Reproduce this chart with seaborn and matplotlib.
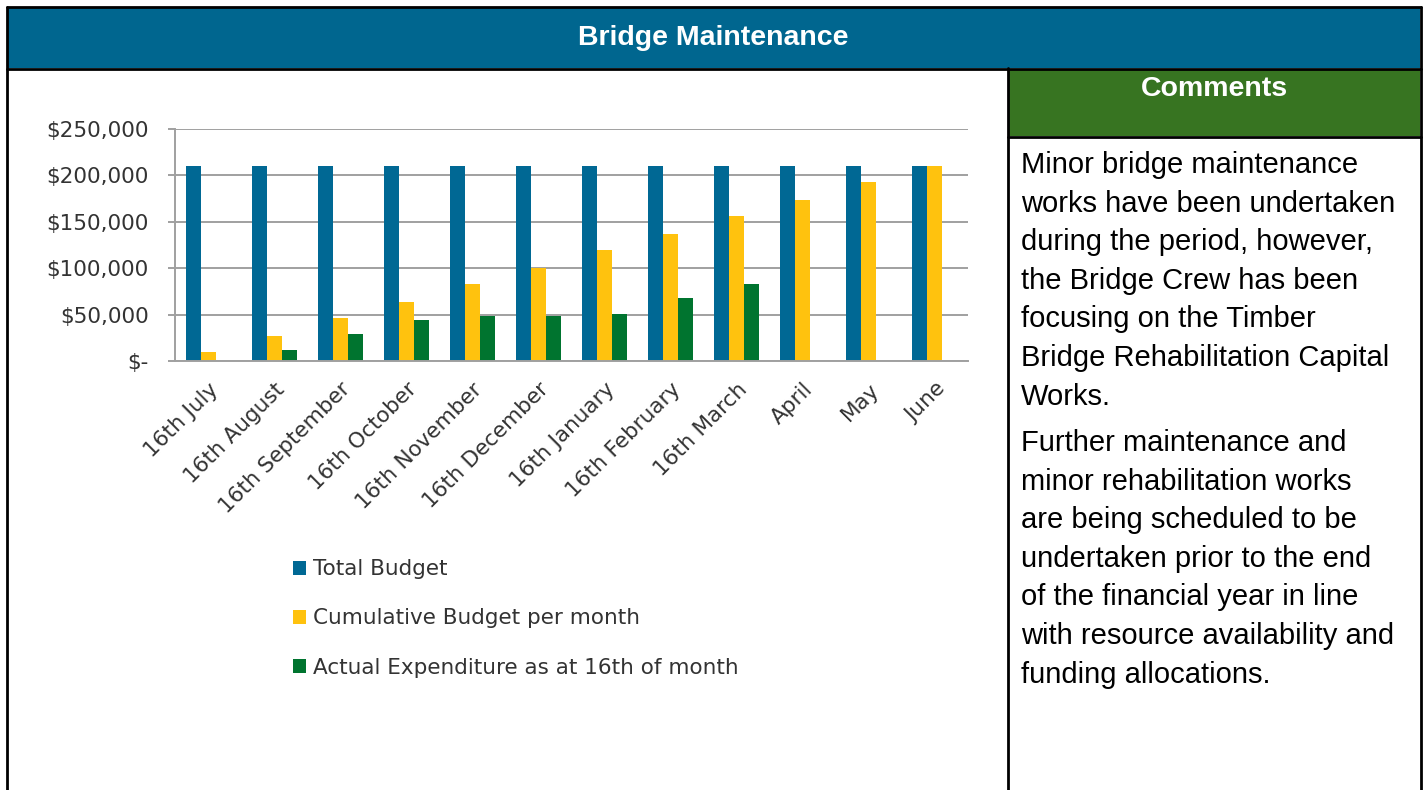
import matplotlib
matplotlib.use("Agg")
import matplotlib.pyplot as plt
from matplotlib.patches import Rectangle
from matplotlib.lines import Line2D
from matplotlib.ticker import FuncFormatter, FixedLocator
import numpy as np
import pandas as pd
import seaborn as sns

# data
months = ['16th July', '16th August', '16th September', '16th October',
          '16th November', '16th December', '16th January', '16th February',
          '16th March', 'April', 'May', 'June']
total_budget = [210000] * 12
cumulative_budget = [10000, 27000, 46000, 64000, 83000, 100000,
                     120000, 137000, 156000, 173000, 193000, 210000]
actual_spend = [np.nan, 12000, 29000, 44000, 49000, 49000,
                51000, 68000, 83000, np.nan, np.nan, np.nan]
series_names = ['Total Budget', 'Cumulative Budget per month',
                'Actual Expenditure as at 16th of month']
series_colors = ['#006894', '#FFC20E', '#00742F']

comment_para1 = ['Minor bridge maintenance', 'works have been undertaken',
                 'during the period, however,', 'the Bridge Crew has been',
                 'focusing on the Timber', 'Bridge Rehabilitation Capital',
                 'Works.']
comment_para2 = ['Further maintenance and', 'minor rehabilitation works',
                 'are being scheduled to be', 'undertaken prior to the end',
                 'of the financial year in line', 'with resource availability and',
                 'funding allocations.']

W, H = 1428, 790

df = pd.DataFrame({
    'month': months * 3,
    'value': total_budget + cumulative_budget + actual_spend,
    'series': [s for s in series_names for _ in months],
}).dropna()

sns.set_style('white')
plt.rcParams['font.family'] = ['DejaVu Sans']

fig = plt.figure(figsize=(W / 100, H / 100), dpi=100)


def px_rect(x, y, w, h, **kw):
    fig.add_artist(Rectangle((x / W, 1 - (y + h) / H), w / W, h / H,
                             transform=fig.transFigure, **kw))


def px_line(x0, y0, x1, y1, **kw):
    fig.add_artist(Line2D([x0 / W, x1 / W], [1 - y0 / H, 1 - y1 / H],
                          transform=fig.transFigure, **kw))


# frame and headers
px_rect(8, 8, 1412, 60, facecolor='#00668F', edgecolor='none')
px_rect(1009, 69, 411, 67, facecolor='#377421', edgecolor='none')
px_line(7, 7, 1421, 7, color='black', lw=2)
px_line(7, 7, 7, 790, color='black', lw=2)
px_line(1421, 7, 1421, 790, color='black', lw=2)
px_line(7, 68.5, 1421, 68.5, color='black', lw=2)
px_line(1008, 68, 1008, 790, color='black', lw=2)
px_line(1008, 136.5, 1421, 136.5, color='black', lw=2)

fig.text(713 / W, 1 - 38 / H, 'Bridge Maintenance', color='white',
         fontsize=20.5, fontweight='bold', family='Liberation Sans',
         ha='center', va='center')
fig.text(1214 / W, 1 - 89 / H, 'Comments', color='white',
         fontsize=20.5, fontweight='bold', family='Liberation Sans',
         ha='center', va='center')

for i, line in enumerate(comment_para1):
    fig.text(1021 / W, 1 - (165 + i * 38.6) / H, line, fontsize=21,
             family='Liberation Sans', color='black', va='center')
for i, line in enumerate(comment_para2):
    fig.text(1021 / W, 1 - (443 + i * 38.6) / H, line, fontsize=21,
             family='Liberation Sans', color='black', va='center')

# chart
ax = fig.add_axes([175 / W, 1 - 361 / H, 793 / W, 232 / H])
sns.barplot(data=df, x='month', y='value', hue='series', order=months,
            hue_order=series_names, palette=series_colors, width=0.68,
            saturation=1, errorbar=None, linewidth=0, ax=ax, legend=False)

ax.set_ylim(0, 250000)
ax.set_xlim(-0.5, len(months) - 0.5)
ax.set_yticks(np.arange(0, 250001, 50000))
ax.yaxis.set_major_formatter(FuncFormatter(
    lambda v, p: '$-' if v == 0 else '${:,.0f}'.format(v)))
ax.grid(axis='y', color='#A0A0A0', lw=1.4)
ax.set_axisbelow(True)
ax.set_xlabel('')
ax.set_ylabel('')
for side in ['top', 'right']:
    ax.spines[side].set_visible(False)
for side in ['left', 'bottom']:
    ax.spines[side].set_color('#A0A0A0')
    ax.spines[side].set_linewidth(1.4)

ax.xaxis.set_minor_locator(FixedLocator(np.arange(-0.5, len(months), 1)))
ax.tick_params(axis='x', which='major', length=0, pad=13, labelsize=15.5,
               labelcolor='#333333')
ax.tick_params(axis='x', which='minor', length=6, width=1.4, color='#A0A0A0',
               direction='out')
ax.tick_params(axis='y', length=5, width=1.4, color='#A0A0A0', pad=14,
               labelsize=15.5, labelcolor='#333333', left=True)
plt.setp(ax.get_xticklabels(), rotation=45, ha='right',
         rotation_mode='anchor')

handles = [Rectangle((0, 0), 1, 1, facecolor=c, edgecolor='none')
           for c in series_colors]
fig.legend(handles, series_names, loc='upper left',
           bbox_to_anchor=(274 / W, 1 - 540 / H), frameon=False,
           fontsize=15.5, handlelength=0.6, handleheight=0.6,
           handletextpad=0.3, labelspacing=1.35, labelcolor='#333333')

fig.savefig('out.png', dpi=100)
